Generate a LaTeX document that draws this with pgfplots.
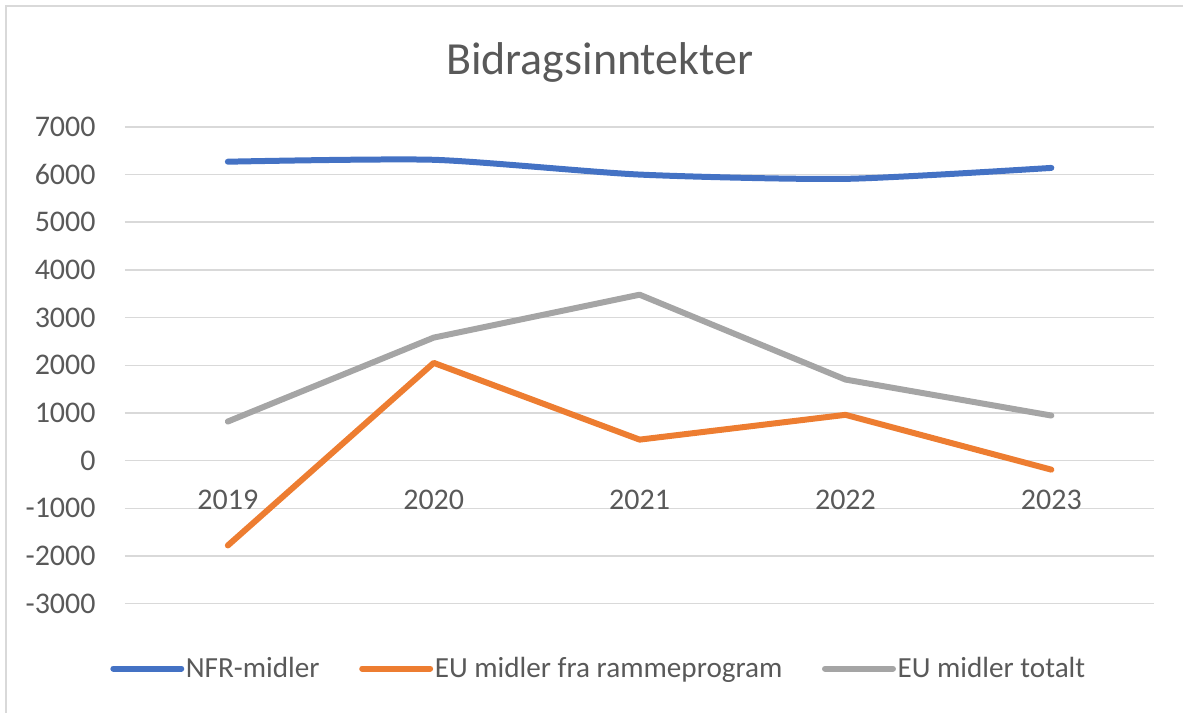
\documentclass[border=0pt]{standalone}
\usepackage{pgfplots}
\pgfplotsset{compat=1.18}
\usepackage{fontspec}
\setmainfont{Carlito}
\definecolor{cblue}{HTML}{4472C4}
\definecolor{corange}{HTML}{ED7D31}
\definecolor{cgray}{HTML}{A5A5A5}
\definecolor{cgrid}{HTML}{D9D9D9}
\definecolor{ctext}{HTML}{595959}
\begin{document}
\begin{tikzpicture}
\path (0,0) rectangle (592bp,356.5bp);
\draw[cgrid, line width=0.75bp] (3bp,0) -- (3bp,353.5bp) -- (592bp,353.5bp);
\node[text=ctext, font=\fontsize{23bp}{27bp}\selectfont] at (300bp,325bp) {Bidragsinntekter};
\begin{axis}[
  at={(62.5bp,54.5bp)}, anchor=south west,
  scale only axis, width=515bp, height=238.5bp,
  xmin=-0.5, xmax=4.5, ymin=-3000, ymax=7000,
  axis x line*=middle, axis y line*=left,
  x axis line style={draw=none}, y axis line style={draw=none},
  major tick length=0pt,
  xtick={0,1,2,3,4}, xticklabels={2019,2020,2021,2022,2023},
  ytick={-3000,-2000,...,7000},
  ymajorgrids, grid style={cgrid, line width=0.75bp},
  /pgf/number format/assume math mode=true,
  /pgf/number format/set thousands separator={},
  tick label style={text=ctext, font=\fontsize{15bp}{18bp}\selectfont},
  xticklabel style={anchor=north, inner sep=0pt, yshift=-14.5bp},
  yticklabel style={anchor=east, inner sep=0pt, xshift=-14.5bp},
  legend columns=3,
  legend style={at={(axis description cs:0,0)}, anchor=west, xshift=-7.5bp, yshift=-32.5bp,
    draw=none, fill=none, inner sep=0pt, font=\fontsize{14.6bp}{18bp}\selectfont, text=ctext,
    /tikz/every even column/.append style={column sep=19bp},
    nodes={inner xsep=0.8bp, inner ysep=1bp}},
  legend cell align=left,
  legend image code/.code={\draw[#1, line cap=round] (0bp,0bp) -- (34bp,0bp);},
  every axis plot/.append style={line width=3bp, line cap=round, line join=round},
  clip=false,
]
\addplot[cblue, smooth, tension=0.4] coordinates {(0,6270) (1,6310) (2,6000) (3,5910) (4,6140)};
\addlegendentry{NFR-midler}
\addplot[corange] coordinates {(0,-1780) (1,2050) (2,440) (3,960) (4,-190)};
\addlegendentry{EU midler fra rammeprogram}
\addplot[cgray] coordinates {(0,820) (1,2580) (2,3480) (3,1700) (4,945)};
\addlegendentry{EU midler totalt}
\end{axis}
\end{tikzpicture}
\end{document}
